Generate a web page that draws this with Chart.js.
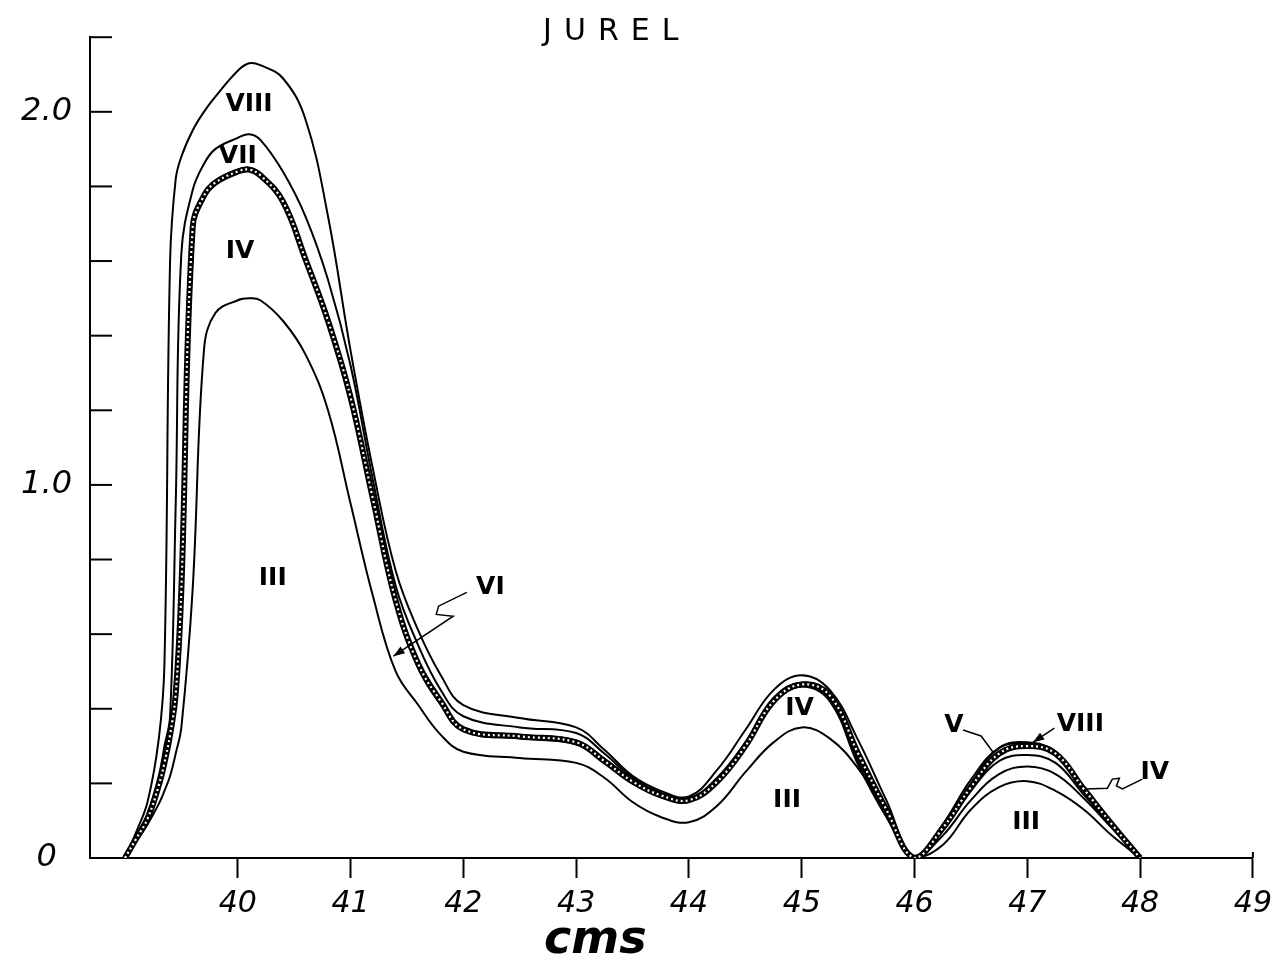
<!DOCTYPE html>
<html>
<head>
<meta charset="utf-8">
<script src="https://cdn.jsdelivr.net/npm/chart.js@4.4.1/dist/chart.umd.min.js"></script>
<style>
html,body{margin:0;padding:0;background:#fff;}
#wrap{width:1280px;height:963px;position:relative;background:#fff;}
canvas{display:block;}
</style>
</head>
<body>
<div id="wrap"><canvas id="c" width="1280" height="963"></canvas></div>
<script>
// ---- data ----
const xValues = [39.0, 39.1, 39.2, 39.3, 39.35, 39.4, 39.45, 39.5, 39.6, 39.7, 39.8, 40.0, 40.1, 40.2, 40.4, 40.6, 40.8, 41.0, 41.2, 41.4, 41.6, 41.8, 42.0, 42.5, 43.0, 43.25, 43.5, 43.75, 44.0, 44.25, 44.5, 44.75, 45.0, 45.25, 45.5, 45.75, 46.0, 46.25, 46.5, 46.75, 47.0, 47.25, 47.5, 47.75, 48.0];

const seriesIII  = [0, 0.045, 0.09, 0.145, 0.18, 0.22, 0.28, 0.35, 0.72, 1.36, 1.46, 1.495, 1.50, 1.495, 1.44, 1.35, 1.20, 0.95, 0.70, 0.50, 0.41, 0.33, 0.285, 0.268, 0.255, 0.215, 0.15, 0.11, 0.096, 0.14, 0.23, 0.31, 0.35, 0.32, 0.24, 0.12, 0, 0.035, 0.13, 0.19, 0.206, 0.18, 0.13, 0.06, 0];
const seriesIV   = [0, 0.05, 0.10, 0.19, 0.25, 0.32, 0.42, 0.70, 1.68, 1.77, 1.81, 1.84, 1.845, 1.83, 1.76, 1.60, 1.43, 1.22, 0.95, 0.68, 0.51, 0.41, 0.34, 0.32, 0.305, 0.255, 0.20, 0.165, 0.15, 0.205, 0.30, 0.42, 0.46, 0.42, 0.25, 0.11, 0, 0.06, 0.155, 0.225, 0.245, 0.225, 0.16, 0.08, 0];
const seriesV    = [0, 0.055, 0.11, 0.20, 0.26, 0.34, 0.45, 0.75, 1.70, 1.78, 1.815, 1.845, 1.85, 1.835, 1.765, 1.615, 1.45, 1.25, 0.97, 0.70, 0.525, 0.425, 0.35, 0.33, 0.315, 0.265, 0.21, 0.17, 0.158, 0.21, 0.305, 0.425, 0.47, 0.44, 0.285, 0.135, 0, 0.09, 0.21, 0.295, 0.305, 0.28, 0.19, 0.09, 0];
const seriesVI   = [0, 0.052, 0.105, 0.195, 0.255, 0.33, 0.44, 0.72, 1.69, 1.775, 1.81, 1.84, 1.845, 1.83, 1.76, 1.605, 1.44, 1.235, 0.96, 0.69, 0.52, 0.42, 0.345, 0.326, 0.31, 0.26, 0.205, 0.168, 0.155, 0.205, 0.30, 0.42, 0.465, 0.435, 0.28, 0.13, 0, 0.08, 0.19, 0.28, 0.30, 0.28, 0.185, 0.09, 0];
const seriesVII  = [0, 0.06, 0.12, 0.22, 0.30, 0.38, 0.95, 1.62, 1.79, 1.86, 1.90, 1.93, 1.94, 1.925, 1.84, 1.72, 1.55, 1.32, 1.01, 0.73, 0.57, 0.45, 0.38, 0.35, 0.335, 0.28, 0.215, 0.175, 0.16, 0.215, 0.31, 0.43, 0.47, 0.43, 0.26, 0.12, 0, 0.075, 0.18, 0.26, 0.276, 0.255, 0.17, 0.085, 0];
const seriesVIII = [0, 0.07, 0.15, 0.32, 0.52, 1.60, 1.82, 1.88, 1.95, 2.00, 2.04, 2.11, 2.13, 2.125, 2.09, 1.98, 1.72, 1.36, 1.04, 0.77, 0.61, 0.49, 0.41, 0.375, 0.35, 0.29, 0.22, 0.18, 0.165, 0.236, 0.343, 0.45, 0.49, 0.45, 0.316, 0.155, 0, 0.085, 0.20, 0.295, 0.31, 0.285, 0.19, 0.095, 0];

const xTickValues = [40, 41, 42, 43, 44, 45, 46, 47, 48, 49];
const xTickLabels = ['40', '41', '42', '43', '44', '45', '46', '47', '48', '49'];
const yTickValues = [0, 0.2, 0.4, 0.6, 0.8, 1.0, 1.2, 1.4, 1.6, 1.8, 2.0, 2.2];
const yTickLabels = ['0', '', '', '', '', '1.0', '', '', '', '', '2.0', ''];

const chartTitle = 'JUREL';
const xAxisTitle = 'cms';

// curve labels (text + anchor in data units)
const curveLabels = [
  {text: 'VIII', x: 40.10, y: 2.02},
  {text: 'VII',  x: 40.00, y: 1.88},
  {text: 'IV',   x: 40.02, y: 1.625},
  {text: 'III',  x: 40.31, y: 0.75},
  {text: 'VI',   x: 42.24, y: 0.725},
  {text: 'IV',   x: 44.98, y: 0.40},
  {text: 'III',  x: 44.87, y: 0.155},
  {text: 'V',    x: 46.35, y: 0.356},
  {text: 'VIII', x: 47.47, y: 0.359},
  {text: 'IV',   x: 48.13, y: 0.228},
  {text: 'III',  x: 46.99, y: 0.096}
];
const pointers = [
  {pts: [[42.03, 0.712], [41.78, 0.675], [41.76, 0.653], [41.91, 0.648], [41.38, 0.541]], arrow: true},
  {pts: [[46.43, 0.343], [46.59, 0.327], [46.695, 0.284]], arrow: false},
  {pts: [[47.24, 0.348], [47.05, 0.31]], arrow: true},
  {pts: [[48.02, 0.2115], [47.843, 0.185], [47.79, 0.193], [47.816, 0.214], [47.754, 0.2115], [47.71, 0.187], [47.516, 0.185]], arrow: false}
];

// ---- build ----
const toPts = arr => arr.map((v, i) => ({x: xValues[i], y: v}));
const lineDs = (label, arr, extra) => Object.assign({
  label, data: toPts(arr), borderColor: '#000', borderWidth: 2,
  pointRadius: 0, fill: false, tension: 0.4, order: 3
}, extra || {});

const datasets = [
  lineDs('III', seriesIII),
  lineDs('IV', seriesIV),
  lineDs('V', seriesV),
  lineDs('VII', seriesVII),
  lineDs('VIII', seriesVIII),
  lineDs('VI', seriesVI, {borderWidth: 6, order: 2}),
  lineDs('VI (beads)', seriesVI, {borderWidth: 2.2, borderColor: '#fff', borderDash: [2, 3], order: 1})
];

const decor = {
  id: 'decor',
  afterDraw(chart) {
    const ctx = chart.ctx, xs = chart.scales.x, ys = chart.scales.y;
    const X = v => xs.getPixelForValue(v), Y = v => ys.getPixelForValue(v);
    ctx.save();
    ctx.strokeStyle = '#000';
    ctx.fillStyle = '#000';
    ctx.lineWidth = 2;
    // inward ticks on the y axis
    yTickValues.forEach(v => {
      if (v === 0) return;
      const py = Y(v);
      ctx.beginPath(); ctx.moveTo(xs.left, py); ctx.lineTo(xs.left + 22, py); ctx.stroke();
    });
    // small upward tick at axis end
    ctx.beginPath(); ctx.moveTo(X(49), Y(0)); ctx.lineTo(X(49), Y(0) - 6); ctx.stroke();

    // pointers
    ctx.lineWidth = 1.5;
    pointers.forEach(p => {
      ctx.beginPath();
      p.pts.forEach((q, i) => { const px = X(q[0]), py = Y(q[1]); if (i === 0) ctx.moveTo(px, py); else ctx.lineTo(px, py); });
      ctx.stroke();
      if (p.arrow) {
        const a = p.pts[p.pts.length - 2], b = p.pts[p.pts.length - 1];
        const ax = X(a[0]), ay = Y(a[1]), bx = X(b[0]), by = Y(b[1]);
        const ang = Math.atan2(by - ay, bx - ax);
        ctx.beginPath();
        ctx.moveTo(bx, by);
        ctx.lineTo(bx - 12 * Math.cos(ang - 0.35), by - 12 * Math.sin(ang - 0.35));
        ctx.lineTo(bx - 12 * Math.cos(ang + 0.35), by - 12 * Math.sin(ang + 0.35));
        ctx.closePath(); ctx.fill();
      }
    });

    // curve labels
    ctx.font = 'bold 25px "DejaVu Sans"';
    ctx.textAlign = 'center';
    ctx.textBaseline = 'middle';
    curveLabels.forEach(l => ctx.fillText(l.text, X(l.x), Y(l.y)));

    // title
    ctx.font = '30px "DejaVu Sans"';
    if ('letterSpacing' in ctx) ctx.letterSpacing = '12px';
    ctx.fillText(chartTitle, X(43.36), Y(2.213));
    if ('letterSpacing' in ctx) ctx.letterSpacing = '0px';

    // x axis title
    ctx.font = 'italic bold 46px "DejaVu Sans"';
    ctx.fillText(xAxisTitle, X(43.17), Y(-0.222));
    ctx.restore();
  }
};

new Chart(document.getElementById('c'), {
  type: 'line',
  data: {datasets},
  plugins: [decor],
  options: {
    responsive: false,
    animation: false,
    layout: {padding: {left: 0, top: 37, right: 22, bottom: 0}},
    plugins: {legend: {display: false}, tooltip: {enabled: false}, title: {display: false}},
    scales: {
      x: {
        type: 'linear', min: 38.69, max: 49,
        afterBuildTicks: s => { s.ticks = xTickValues.map(v => ({value: v})); },
        afterFit: s => { s.height = 105; },
        ticks: {
          autoSkip: false, maxRotation: 0, color: '#000', padding: 8,
          font: {family: '"DejaVu Sans"', style: 'italic', size: 30},
          callback: v => { const i = xTickValues.indexOf(v); return i >= 0 ? xTickLabels[i] : ''; }
        },
        grid: {display: true, drawOnChartArea: false, drawTicks: true, tickLength: 20, tickWidth: 2, tickColor: '#000', color: '#000'},
        border: {display: true, color: '#000', width: 2}
      },
      y: {
        type: 'linear', min: 0, max: 2.2,
        afterBuildTicks: s => { s.ticks = yTickValues.map(v => ({value: v})); },
        afterFit: s => { s.width = 90; },
        ticks: {
          color: '#000', padding: 18, crossAlign: 'center',
          font: {family: '"DejaVu Sans"', style: 'italic', size: 32},
          callback: v => { const i = yTickValues.findIndex(t => Math.abs(t - v) < 1e-9); return i >= 0 ? yTickLabels[i] : ''; }
        },
        grid: {display: false, drawTicks: false},
        border: {display: true, color: '#000', width: 2}
      }
    }
  }
});
</script>
</body>
</html>
